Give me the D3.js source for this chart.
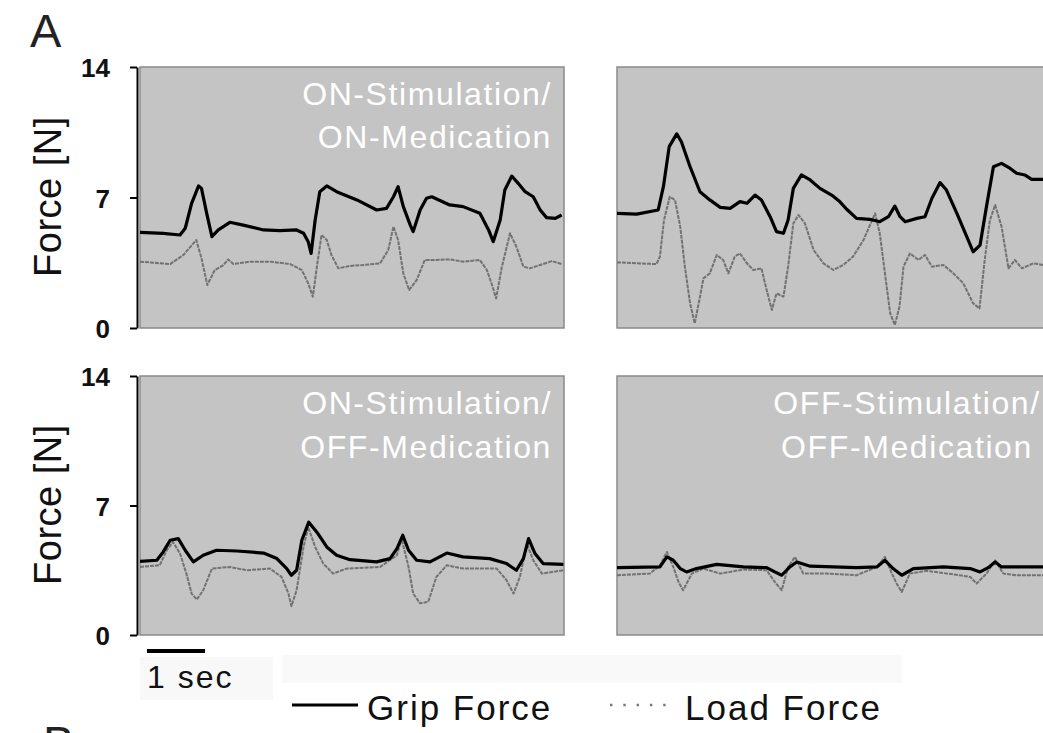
<!DOCTYPE html>
<html>
<head>
<meta charset="utf-8">
<script src="https://cdn.jsdelivr.net/npm/d3@7"></script>
<style>
  html, body { margin: 0; padding: 0; background: #ffffff; }
  svg { display: block; font-family: "Liberation Sans", Arial, Helvetica, sans-serif; }
</style>
</head>
<body>
<svg id="chart" width="1043" height="733"></svg>
<script>
// ---- Force traces (time in s, force in N) ----
// ON-Stimulation / ON-Medication
const onOnGripT = [0,0.40,0.69,0.78,0.89,1.01,1.06,1.15,1.24,1.35,1.55,1.78,2.13,2.41,2.70,2.82,2.90,2.95,3.02,3.10,3.22,3.39,3.74,4.08,4.25,4.37,4.45,4.54,4.66,4.71,4.83,4.94,5.03,5.34,5.57,5.86,6.01,6.09,6.21,6.29,6.41,6.52,6.64,6.78,6.90,7.01,7.16,7.27];
const onOnGripN = [5.13,5.08,4.99,5.35,6.69,7.62,7.49,6.15,4.90,5.26,5.67,5.52,5.26,5.22,5.26,5.08,4.63,4.00,5.79,7.31,7.62,7.31,6.87,6.33,6.42,7.04,7.58,6.51,5.52,5.17,6.33,6.96,7.04,6.60,6.51,6.15,5.26,4.63,5.79,7.40,8.15,7.76,7.31,7.04,6.33,5.92,5.88,6.06];
const onOnLoadT = [0,0.52,0.75,0.97,1.06,1.16,1.29,1.44,1.52,1.61,1.90,2.24,2.59,2.79,2.90,2.98,3.05,3.13,3.22,3.30,3.42,3.62,3.85,4.14,4.28,4.37,4.45,4.54,4.64,4.77,4.91,5.11,5.34,5.57,5.86,5.98,6.06,6.14,6.24,6.38,6.49,6.61,6.72,6.95,7.10,7.27];
const onOnLoadN = [3.56,3.43,3.92,4.72,3.74,2.31,3.11,3.38,3.68,3.43,3.56,3.56,3.43,3.11,2.40,1.68,3.29,4.99,4.72,3.92,3.20,3.33,3.38,3.47,4.18,5.44,4.72,2.93,2.04,2.57,3.65,3.65,3.68,3.56,3.65,3.11,2.40,1.59,3.29,5.08,4.36,3.29,3.20,3.43,3.59,3.43];

// OFF-Stimulation / ON-Medication
const offOnGripT = [0,0.34,0.71,0.80,0.90,1.03,1.11,1.26,1.43,1.60,1.78,1.95,2.12,2.24,2.38,2.49,2.64,2.75,2.87,2.95,3.04,3.18,3.33,3.50,3.70,3.84,3.96,4.13,4.36,4.53,4.68,4.79,4.88,4.97,5.17,5.31,5.43,5.57,5.68,5.86,6.03,6.14,6.26,6.37,6.49,6.63,6.78,6.89,7.03,7.15,7.35];
const offOnGripN = [6.15,6.11,6.33,7.58,9.73,10.41,9.99,8.65,7.31,6.87,6.47,6.42,6.78,6.69,7.13,6.87,5.97,5.17,5.08,5.79,7.49,8.21,7.94,7.49,7.13,6.78,6.37,5.88,5.83,5.70,5.97,6.54,5.97,5.70,5.88,5.97,6.96,7.80,7.40,6.15,4.90,4.09,4.45,6.51,8.65,8.83,8.56,8.30,8.21,7.97,7.97];
const offOnLoadT = [0,0.34,0.68,0.74,0.81,0.91,1.00,1.09,1.17,1.26,1.34,1.42,1.49,1.60,1.72,1.83,1.92,2.03,2.12,2.24,2.35,2.49,2.58,2.67,2.75,2.87,2.95,3.04,3.13,3.24,3.39,3.56,3.73,3.90,4.07,4.25,4.45,4.53,4.62,4.71,4.79,4.87,4.94,5.05,5.20,5.31,5.43,5.63,5.80,5.97,6.14,6.25,6.34,6.43,6.52,6.63,6.75,6.86,6.98,7.18,7.35];
const offOnLoadN = [3.52,3.47,3.43,3.83,5.79,7.04,6.87,5.44,3.29,1.32,0.25,1.50,2.66,2.93,3.92,3.65,2.93,3.83,4.00,3.47,3.11,3.20,2.04,0.97,1.86,1.68,3.29,5.61,6.06,5.61,4.18,3.47,3.11,3.38,3.83,4.72,6.15,5.08,2.93,0.79,0.16,1.14,3.29,4.00,3.65,3.92,3.29,3.38,2.93,2.40,1.32,1.05,3.65,5.79,6.60,5.44,3.20,3.65,3.20,3.47,3.38];

// ON-Stimulation / OFF-Medication
const onOffGripT = [0,0.29,0.40,0.52,0.66,0.78,0.92,1.09,1.32,1.67,2.13,2.36,2.53,2.61,2.70,2.79,2.91,3.05,3.22,3.39,3.62,4.08,4.31,4.43,4.53,4.63,4.77,5.00,5.29,5.57,6.03,6.32,6.49,6.61,6.70,6.81,6.95,7.30];
const onOffGripN = [3.98,4.04,4.49,5.12,5.21,4.58,3.95,4.31,4.58,4.54,4.43,4.13,3.59,3.23,3.50,5.12,6.10,5.56,4.76,4.31,4.07,3.95,4.13,4.67,5.39,4.58,4.04,3.95,4.43,4.22,4.13,3.86,3.50,4.13,5.21,4.40,3.86,3.82];
const onOffLoadT = [0,0.34,0.46,0.57,0.69,0.80,0.89,0.98,1.09,1.24,1.55,1.84,2.24,2.44,2.56,2.61,2.70,2.82,2.90,3.02,3.16,3.33,3.56,4.14,4.43,4.51,4.63,4.71,4.83,4.97,5.11,5.29,5.57,6.15,6.32,6.44,6.55,6.67,6.78,6.93,7.30];
const onOffLoadN = [3.68,3.77,4.58,5.03,4.40,3.32,2.24,1.92,2.42,3.59,3.68,3.50,3.59,3.14,2.24,1.56,2.42,4.76,5.83,4.76,3.86,3.32,3.59,3.68,4.31,5.21,3.68,2.24,1.71,1.80,3.14,3.77,3.59,3.59,2.96,2.24,3.14,4.94,4.04,3.32,3.50];

// OFF-Stimulation / OFF-Medication
const offOffGripT = [0,0.74,0.86,0.97,1.09,1.20,1.37,1.72,2.18,2.58,2.72,2.84,2.98,3.10,3.33,4.13,4.48,4.62,4.76,4.91,5.11,5.63,6.09,6.26,6.40,6.52,6.63,7.35];
const offOffGripN = [3.64,3.68,4.22,4.04,3.59,3.41,3.59,3.82,3.68,3.64,3.41,3.23,3.68,3.95,3.72,3.64,3.68,4.04,3.59,3.23,3.59,3.68,3.59,3.41,3.64,3.95,3.68,3.68];
const offOffLoadT = [0,0.57,0.74,0.86,0.97,1.06,1.14,1.29,1.49,1.78,2.18,2.58,2.72,2.84,2.95,3.07,3.21,3.61,4.13,4.48,4.62,4.74,4.82,4.91,5.05,5.34,5.91,6.09,6.20,6.37,6.52,6.66,6.89,7.35];
const offOffLoadN = [3.23,3.32,3.77,4.49,3.68,2.87,2.42,3.32,3.59,3.32,3.54,3.50,2.87,2.42,3.68,4.22,3.32,3.32,3.23,3.68,4.22,3.32,2.78,2.33,3.32,3.47,3.23,3.14,2.78,3.32,4.04,3.32,3.23,3.23];

// ---- Axis and text content ----
const forceTicks = [0, 7, 14];
const forceDomain = [0, 14];
const timeDomain = [0, 7.3];
const scaleBarSeconds = 1;
const yAxisTitle = "Force [N]";
const seriesNames = ["Grip Force", "Load Force"];
const scaleBarLabel = "1 sec";
const panelLetters = ["A", "B"];
const conditionLabels = [
  ["ON-Stimulation/", "ON-Medication"],
  [],
  ["ON-Stimulation/", "OFF-Medication"],
  ["OFF-Stimulation/", "OFF-Medication"]
];

// ---- Layout ----
const svg = d3.select("#chart");
const FONT = "'Liberation Sans', Arial, Helvetica, sans-serif";
const pxPerSecond = 58;
const cols = [{ x: 140, w: 424 }, { x: 617, w: 440 }];
const rows = [{ y: 67, h: 261 }, { y: 376, h: 259 }];

const x = d3.scaleLinear().domain(timeDomain).range([0, timeDomain[1] * pxPerSecond]);

const panels = [
  { row: 0, col: 0, grip: d3.zip(onOnGripT, onOnGripN), load: d3.zip(onOnLoadT, onOnLoadN), label: conditionLabels[0] },
  { row: 0, col: 1, grip: d3.zip(offOnGripT, offOnGripN), load: d3.zip(offOnLoadT, offOnLoadN), label: conditionLabels[1] },
  { row: 1, col: 0, grip: d3.zip(onOffGripT, onOffGripN), load: d3.zip(onOffLoadT, onOffLoadN), label: conditionLabels[2] },
  { row: 1, col: 1, grip: d3.zip(offOffGripT, offOffGripN), load: d3.zip(offOffLoadT, offOffLoadN), label: conditionLabels[3] }
];

// faint backing bands under the scale bar caption and legend
svg.append("rect").attr("x", 140).attr("y", 657).attr("width", 133).attr("height", 43).attr("fill", "#f8f8f8");
svg.append("rect").attr("x", 282).attr("y", 655).attr("width", 620).attr("height", 28).attr("fill", "#f9f9f9");

const defs = svg.append("defs");

panels.forEach((p, i) => {
  const c = cols[p.col], r = rows[p.row];
  const y = d3.scaleLinear().domain(forceDomain).range([r.h, 0]);
  const g = svg.append("g").attr("transform", `translate(${c.x},${r.y})`);

  defs.append("clipPath").attr("id", "clip" + i)
    .append("rect").attr("x", 0).attr("y", 0).attr("width", c.w).attr("height", r.h);

  g.append("rect")
    .attr("x", 0).attr("y", 0).attr("width", c.w).attr("height", r.h)
    .attr("fill", "#c4c4c4").attr("stroke", "#8a8a8a").attr("stroke-width", 1.5);

  const line = d3.line().x(d => x(d[0])).y(d => y(d[1]));
  const plot = g.append("g").attr("clip-path", `url(#clip${i})`);

  plot.append("path").datum(p.load).attr("d", line)
    .attr("fill", "none").attr("stroke", "#727272").attr("stroke-width", 2)
    .attr("stroke-dasharray", "4,1").attr("stroke-linejoin", "round");
  plot.append("path").datum(p.grip).attr("d", line)
    .attr("fill", "none").attr("stroke", "#000").attr("stroke-width", 3.2)
    .attr("stroke-linejoin", "round");

  // condition label in white
  if (p.label.length) {
    const anchorRight = p.col === 0;
    const tx = anchorRight ? 412 : 290;
    const baselines = p.row === 0 ? [38, 81] : [38, 82];
    p.label.forEach((txt, k) => {
      g.append("text")
        .attr("x", tx).attr("y", baselines[k])
        .attr("text-anchor", anchorRight ? "end" : "middle")
        .attr("fill", "#ffffff")
        .attr("font-family", FONT).attr("font-size", 32)
        .attr("letter-spacing", 1.6)
        .text(txt);
    });
  }

  // force axis for the left column
  if (p.col === 0) {
    const ax = svg.append("g")
      .attr("transform", `translate(${c.x - 3},${r.y})`)
      .call(d3.axisLeft(y).tickValues(forceTicks).tickSize(7).tickSizeOuter(0).tickPadding(20));
    ax.select(".domain").attr("stroke", "#000").attr("stroke-width", 2);
    ax.selectAll(".tick line").attr("stroke", "#000").attr("stroke-width", 2);
    ax.selectAll(".tick text")
      .attr("font-family", FONT).attr("font-size", 26).attr("font-weight", "bold")
      .attr("fill", "#111").attr("dy", "0.38em");

    svg.append("text")
      .attr("transform", `translate(61,${r.y + r.h / 2 - 1}) rotate(-90)`)
      .attr("text-anchor", "middle")
      .attr("font-family", FONT).attr("font-size", 38).attr("letter-spacing", 0.5)
      .attr("fill", "#111")
      .text(yAxisTitle);
  }
});

// panel letters (the second one starts below the lower edge)
svg.append("text").attr("x", 30).attr("y", 47)
  .attr("font-family", FONT).attr("font-size", 47).attr("fill", "#222").text(panelLetters[0]);
svg.append("text").attr("x", 43).attr("y", 759)
  .attr("font-family", FONT).attr("font-size", 47).attr("fill", "#222").text(panelLetters[1]);

// 1-second scale bar
const barX = 147;
svg.append("rect")
  .attr("x", barX).attr("y", 649)
  .attr("width", x(scaleBarSeconds) - x(0)).attr("height", 4)
  .attr("fill", "#000");
svg.append("text").attr("x", barX).attr("y", 688)
  .attr("font-family", FONT).attr("font-size", 32).attr("letter-spacing", 2)
  .attr("fill", "#111").text(scaleBarLabel);

// legend
const legend = svg.append("g");
legend.append("line").attr("x1", 292).attr("x2", 358).attr("y1", 705).attr("y2", 705)
  .attr("stroke", "#000").attr("stroke-width", 3);
legend.append("text").attr("x", 367).attr("y", 720)
  .attr("font-family", FONT).attr("font-size", 35).attr("letter-spacing", 2)
  .attr("fill", "#111").text(seriesNames[0]);
legend.append("line").attr("x1", 610).attr("x2", 670).attr("y1", 705).attr("y2", 705)
  .attr("stroke", "#777").attr("stroke-width", 2.4).attr("stroke-dasharray", "2.4,10.9");
legend.append("text").attr("x", 685).attr("y", 720)
  .attr("font-family", FONT).attr("font-size", 35).attr("letter-spacing", 2)
  .attr("fill", "#111").text(seriesNames[1]);
</script>
</body>
</html>
